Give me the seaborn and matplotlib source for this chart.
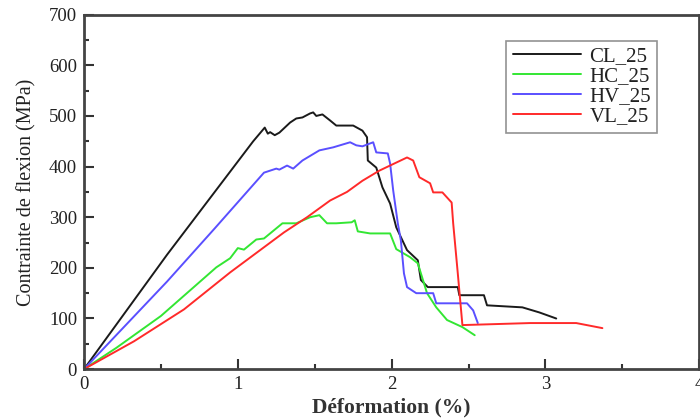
import numpy as np
import pandas as pd
import matplotlib
matplotlib.use("Agg")
import matplotlib.pyplot as plt
import seaborn as sns
from matplotlib.ticker import MultipleLocator

# ---- data ----
series_names = ["CL_25", "HC_25", "HV_25", "VL_25"]

cl_x = [0, 0.54, 1.10, 1.175, 1.195, 1.21, 1.24, 1.27, 1.34, 1.38, 1.42, 1.47, 1.49, 1.51, 1.55,
        1.60, 1.64, 1.75, 1.81, 1.84, 1.845, 1.90, 1.94, 1.99, 2.03, 2.10, 2.17, 2.19, 2.235,
        2.43, 2.44, 2.60, 2.62, 2.85, 2.96, 3.07]
cl_y = [0, 226, 450, 477, 465, 468, 462, 467, 487, 495, 497, 505, 507, 500, 503,
        491, 481, 481, 471, 458, 412, 398, 359, 327, 280, 235, 215, 176, 162,
        162, 146, 146, 126, 122, 112, 100]

hc_x = [0, 0.21, 0.50, 0.86, 0.95, 1.0, 1.04, 1.12, 1.17, 1.29, 1.38, 1.47, 1.53, 1.58, 1.64,
        1.74, 1.76, 1.78, 1.86, 1.99, 2.03, 2.12, 2.17, 2.23, 2.29, 2.36, 2.46, 2.54]
hc_y = [0, 42, 105, 201, 219, 239, 236, 256, 258, 288, 288, 300, 304, 288, 288,
        290, 294, 272, 268, 268, 237, 221, 209, 150, 122, 97, 83, 67]

hv_x = [0, 0.54, 0.85, 1.17, 1.25, 1.27, 1.32, 1.36, 1.42, 1.53, 1.62, 1.73, 1.77, 1.81, 1.88,
        1.90, 1.975, 1.99, 2.01, 2.04, 2.06, 2.08, 2.10, 2.16, 2.27, 2.29, 2.49, 2.53, 2.56]
hv_y = [0, 173, 278, 388, 396, 394, 402, 396, 412, 432, 438, 448, 442, 440, 448,
        428, 426, 406, 353, 288, 254, 189, 162, 150, 150, 130, 130, 116, 91]

vl_x = [0, 0.325, 0.65, 0.95, 1.30, 1.45, 1.60, 1.71, 1.81, 1.92, 2.10, 2.14, 2.18, 2.25, 2.27,
        2.33, 2.39, 2.40, 2.43, 2.46, 2.90, 3.20, 3.37]
vl_y = [0, 55, 118, 191, 270, 300, 333, 350, 372, 392, 418, 412, 379, 367, 349,
        349, 329, 288, 189, 87, 91, 91, 81]

x_ticks = [0, 1, 2, 3, 4]
y_ticks = [0, 100, 200, 300, 400, 500, 600, 700]
x_label = "Déformation (%)"
y_label = "Contrainte de flexion (MPa)"

colors = {"CL_25": "#1a1a1a", "HC_25": "#33e633", "HV_25": "#5a4fff", "VL_25": "#ff2a2a"}

frames = []
for name, xs, ys in zip(series_names, [cl_x, hc_x, hv_x, vl_x], [cl_y, hc_y, hv_y, vl_y]):
    frames.append(pd.DataFrame({"x": xs, "y": ys, "serie": name}))
df = pd.concat(frames, ignore_index=True)

sns.set_theme(style="white")
plt.rcParams["font.family"] = ["Liberation Serif", "DejaVu Serif"]

fig = plt.figure(figsize=(7.0, 4.19), dpi=100)
ax = fig.add_axes([0.12, 0.119, 0.879, 0.846])

sns.lineplot(data=df, x="x", y="y", hue="serie", hue_order=series_names, palette=colors,
             sort=False, estimator=None, units="serie", linewidth=1.4, ax=ax)

ax.set_xlim(0, 4)
ax.set_ylim(0, 700)
ax.set_xticks(x_ticks)
ax.set_yticks(y_ticks)
ax.xaxis.set_minor_locator(MultipleLocator(0.5))
ax.yaxis.set_minor_locator(MultipleLocator(50))
ax.tick_params(which="major", direction="in", length=7, width=1.5, color="#333333",
               labelsize=13.5, labelcolor="#222222", pad=5)
ax.tick_params(which="minor", direction="in", length=3.5, width=1.5, color="#333333")
ax.tick_params(axis="x", which="both", bottom=True, top=False)
ax.tick_params(axis="y", which="both", left=True, right=False)
for s in ax.spines.values():
    s.set_color("#444444")
    s.set_linewidth(2)

ax.set_xlabel(x_label, fontsize=15.5, fontweight="bold", color="#333333", labelpad=3)
ax.set_ylabel(y_label, fontsize=14.5, color="#222222", labelpad=9)

leg = ax.legend(loc="upper right", bbox_to_anchor=(0.932, 0.927), borderaxespad=0,
                fontsize=15, frameon=True, fancybox=False, handlelength=3.3,
                handletextpad=0.4, labelspacing=0.02, borderpad=0.3)
leg.get_frame().set_edgecolor("#777777")
leg.get_frame().set_linewidth(1.2)
for t in leg.get_texts():
    t.set_color("#222222")

fig.savefig("out.png", dpi=100, facecolor="white")
